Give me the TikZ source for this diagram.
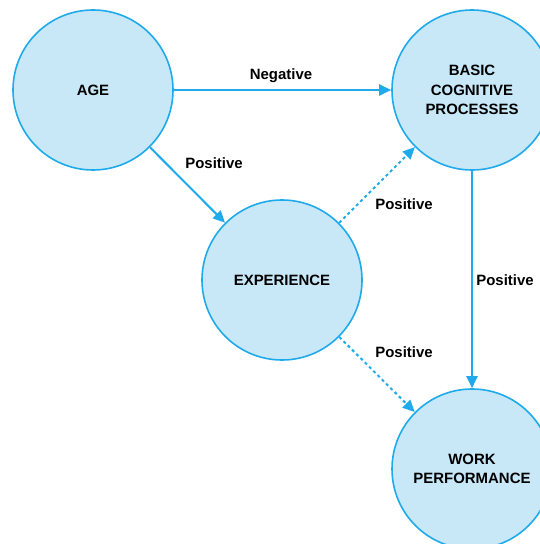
\documentclass[tikz,border=0pt]{standalone}
\usepackage{fontspec}
\setmainfont{Liberation Sans}
\usepackage{xcolor}
\usetikzlibrary{arrows.meta}

\definecolor{lineblue}{RGB}{30,170,235}
\definecolor{fillblue}{RGB}{200,232,248}

\begin{document}
\begin{tikzpicture}[x=1bp,y=-1bp,font=\fontsize{15}{19.5}\selectfont\bfseries]
    \tikzstyle{circ}=[draw=lineblue,fill=fillblue,line width=1.6bp,circle,minimum size=160bp,inner sep=0pt,align=center]
    \tikzstyle{lbl}=[inner sep=0pt]
    \tikzstyle{link}=[draw=lineblue,line width=2bp,-{Triangle[length=12bp,width=11bp]}]
    \tikzstyle{maybe}=[link,dash pattern=on 3bp off 3bp]

    \useasboundingbox (0,0) rectangle (540,544);

    \node[circ] (age)   at ( 93,  90) {AGE};
    \node[circ] (basic) at (472,  90) {BASIC\\COGNITIVE\\PROCESSES};
    \node[circ] (exper) at (282, 280) {EXPERIENCE};
    \node[circ] (work)  at (472, 469) {WORK\\PERFORMANCE};

    \draw[link]  (age)   -- (basic);
    \draw[link]  (age)   -- (exper);
    \draw[link]  (basic) -- (work);
    \draw[maybe] (exper) -- (basic);
    \draw[maybe] (exper) -- (work);

    \node[lbl] (neg)  at (281,  76) {Negative};
    \node[lbl] (posa) at (214, 163) {Positive};
    \node[lbl] (posb) at (404, 204) {Positive};
    \node[lbl] (posc) at (505, 280) {Positive};
    \node[lbl] (posd) at (404, 352) {Positive};
\end{tikzpicture}
\end{document}
